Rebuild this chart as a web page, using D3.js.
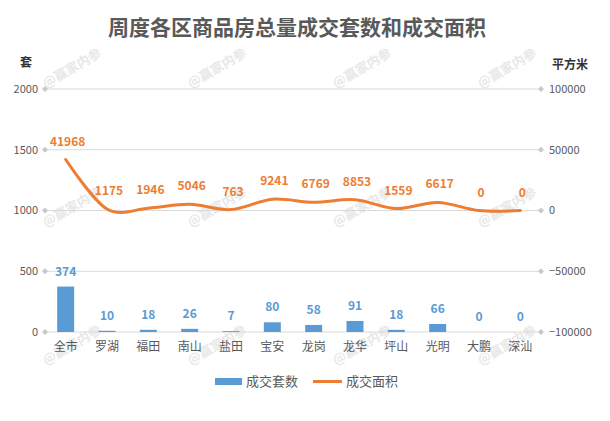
<!DOCTYPE html>
<html>
<head>
<meta charset="utf-8">
<script src="https://cdn.jsdelivr.net/npm/d3@7"></script>
<style>
  body { margin: 0; background: #fff; }
  text { font-family: "Noto Sans CJK SC", "Microsoft YaHei", sans-serif; }
</style>
</head>
<body>
<div id="chart"></div>
<script>
let width = 610;
let height = 421;

// data
let districts = ["全市", "罗湖", "福田", "南山", "盐田", "宝安", "龙岗", "龙华", "坪山", "光明", "大鹏", "深汕"];
let units = [374, 10, 18, 26, 7, 80, 58, 91, 18, 66, 0, 0];
let area = [41968, 1175, 1946, 5046, 763, 9241, 6769, 8853, 1559, 6617, 0, 0];
let leftTicks = [0, 500, 1000, 1500, 2000];
let rightTicks = [-100000, -50000, 0, 50000, 100000];
let seriesNames = ["成交套数", "成交面积"];

let blue = "#5b9bd5";
let orange = "#ed7d31";
let grey = "#595959";

let margin = {top: 89, right: 69, bottom: 89, left: 45};

let svg = d3.select("div#chart").append("svg")
    .attr("width", width)
    .attr("height", height);

// watermark
let marks = svg.append("g");
[68, 207, 345].forEach(wy => {
    [72, 217, 362, 507].forEach(wx => {
        marks.append("text")
            .attr("transform", "translate(" + wx + "," + wy + ") rotate(-30)")
            .attr("text-anchor", "middle")
            .attr("dy", "0.35em")
            .attr("font-size", 13)
            .attr("font-weight", "bold")
            .attr("fill", "#e8e8e8")
            .text("@赢家内参");
    });
});

svg.append("text")
    .attr("x", 297)
    .attr("y", 28)
    .attr("dy", "0.35em")
    .attr("text-anchor", "middle")
    .attr("font-size", 21)
    .attr("font-weight", "bold")
    .attr("fill", grey)
    .text("周度各区商品房总量成交套数和成交面积");

let x = d3.scaleBand()
    .domain(districts)
    .range([margin.left, width - margin.right]);

let yLeft = d3.scaleLinear()
    .domain([0, 2000])
    .range([height - margin.bottom, margin.top]);

let yRight = d3.scaleLinear()
    .domain([-100000, 100000])
    .range([height - margin.bottom, margin.top]);

// grid lines
svg.append("g")
    .selectAll("line")
    .data(leftTicks)
    .join("line")
    .attr("x1", margin.left)
    .attr("x2", width - margin.right)
    .attr("y1", d => yLeft(d))
    .attr("y2", d => yLeft(d))
    .attr("stroke", "#d9d9d9")
    .attr("stroke-width", 1);

function diamond(g, cx, cy) {
    g.append("path")
        .attr("d", d3.symbol(d3.symbolDiamond2, 22)())
        .attr("transform", "translate(" + cx + "," + cy + ")")
        .attr("fill", "#c8c8c8");
}

let leftAxis = svg.append("g");
leftTicks.forEach(t => {
    diamond(leftAxis, margin.left, yLeft(t));
    leftAxis.append("text")
        .attr("x", 38)
        .attr("y", yLeft(t))
        .attr("dy", "0.35em")
        .attr("text-anchor", "end")
        .attr("font-size", 11)
        .attr("fill", grey)
        .text(t);
});

let rightAxis = svg.append("g");
rightTicks.forEach(t => {
    diamond(rightAxis, width - margin.right, yRight(t));
    rightAxis.append("text")
        .attr("x", 549)
        .attr("y", yRight(t))
        .attr("dy", "0.35em")
        .attr("font-size", 11)
        .attr("fill", grey)
        .text(t < 0 ? "\u2212" + Math.abs(t) : t);
});

svg.append("text")
    .attr("x", 26)
    .attr("y", 63)
    .attr("dy", "0.35em")
    .attr("text-anchor", "middle")
    .attr("font-size", 12)
    .attr("font-weight", "bold")
    .attr("fill", "#333")
    .text("套");

svg.append("text")
    .attr("x", 570)
    .attr("y", 65)
    .attr("dy", "0.35em")
    .attr("text-anchor", "middle")
    .attr("font-size", 12)
    .attr("font-weight", "bold")
    .attr("fill", "#333")
    .text("平方米");

// category labels
svg.append("g")
    .selectAll("text")
    .data(districts)
    .join("text")
    .attr("x", d => x(d) + x.bandwidth() / 2)
    .attr("y", 347)
    .attr("dy", "0.35em")
    .attr("text-anchor", "middle")
    .attr("font-size", 12)
    .attr("fill", grey)
    .text(d => d);

// bars
let barWidth = 17;
svg.append("g")
    .selectAll("rect")
    .data(units)
    .join("rect")
    .attr("x", (d, i) => x(districts[i]) + x.bandwidth() / 2 - barWidth / 2)
    .attr("y", d => yLeft(d))
    .attr("width", barWidth)
    .attr("height", d => yLeft(0) - yLeft(d))
    .attr("fill", blue);

svg.append("g")
    .selectAll("text")
    .data(units)
    .join("text")
    .attr("x", (d, i) => x(districts[i]) + x.bandwidth() / 2)
    .attr("y", d => yLeft(d) - 11)
    .attr("text-anchor", "middle")
    .attr("font-size", 12)
    .attr("font-weight", "bold")
    .attr("fill", blue)
    .text(d => d);

// smoothed line
let line = d3.line()
    .x((d, i) => x(districts[i]) + x.bandwidth() / 2)
    .y(d => yRight(d))
    .curve(d3.curveCardinal.tension(0));

svg.append("path")
    .datum(area)
    .attr("d", line)
    .attr("fill", "none")
    .attr("stroke", orange)
    .attr("stroke-width", 3)
    .attr("stroke-linecap", "round");

svg.append("g")
    .selectAll("text")
    .data(area)
    .join("text")
    .attr("x", (d, i) => x(districts[i]) + x.bandwidth() / 2 + 2)
    .attr("y", d => yRight(d) - 14)
    .attr("text-anchor", "middle")
    .attr("font-size", 12)
    .attr("font-weight", "bold")
    .attr("fill", orange)
    .text(d => d);

// legend
let legend = svg.append("g");
legend.append("rect")
    .attr("x", 215)
    .attr("y", 378)
    .attr("width", 27)
    .attr("height", 7)
    .attr("fill", blue);
legend.append("text")
    .attr("x", 246)
    .attr("y", 381.5)
    .attr("dy", "0.35em")
    .attr("font-size", 13)
    .attr("fill", grey)
    .text(seriesNames[0]);
legend.append("line")
    .attr("x1", 313)
    .attr("x2", 342)
    .attr("y1", 381.5)
    .attr("y2", 381.5)
    .attr("stroke", orange)
    .attr("stroke-width", 3);
legend.append("text")
    .attr("x", 346)
    .attr("y", 381.5)
    .attr("dy", "0.35em")
    .attr("font-size", 13)
    .attr("fill", grey)
    .text(seriesNames[1]);
</script>
</body>
</html>
